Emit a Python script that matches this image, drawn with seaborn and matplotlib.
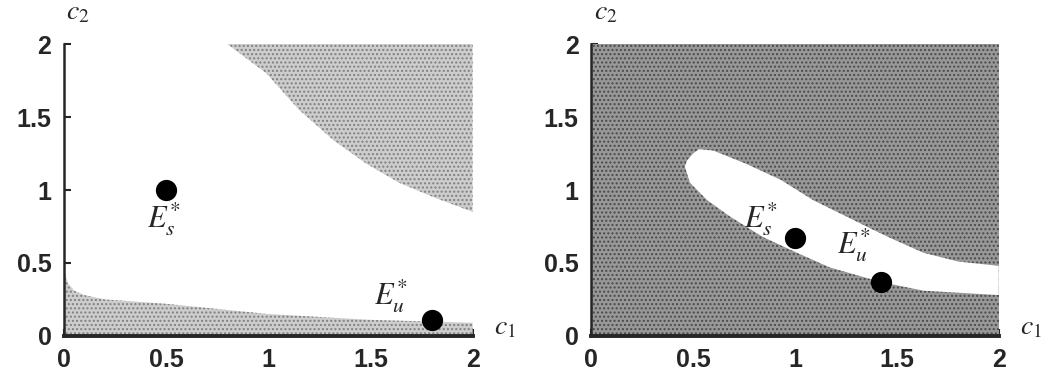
import matplotlib
matplotlib.use("Agg")
import matplotlib.pyplot as plt
import seaborn as sns

# --- datos ---
# panel izquierdo: region sombreada superior y franja inferior
izq_sup_x = [0.80, 0.99, 1.15, 1.32, 1.48, 1.64, 1.81, 2.0]
izq_sup_y = [2.0, 1.80, 1.55, 1.34, 1.18, 1.05, 0.95, 0.85]
izq_inf_x = [0.0, 0.02, 0.05, 0.1, 0.2, 0.5, 1.0, 1.5, 2.0]
izq_inf_y = [0.45, 0.36, 0.31, 0.28, 0.25, 0.22, 0.15, 0.11, 0.09]

# panel derecho: lengua blanca dentro de la region sombreada
der_arriba_x = [0.46, 0.47, 0.50, 0.53, 0.60, 0.76, 0.93, 1.09, 1.25, 1.38, 1.47, 1.63, 1.80, 2.0]
der_arriba_y = [1.16, 1.20, 1.25, 1.28, 1.27, 1.18, 1.07, 0.93, 0.82, 0.73, 0.67, 0.57, 0.51, 0.48]
der_abajo_x = [0.485, 0.57, 0.68, 0.84, 1.01, 1.17, 1.42, 1.63, 2.0]
der_abajo_y = [1.05, 0.93, 0.82, 0.68, 0.57, 0.47, 0.37, 0.31, 0.28]

# equilibrios
izq_puntos_x = [0.5, 1.8]
izq_puntos_y = [1.0, 0.11]
der_puntos_x = [1.0, 1.42]
der_puntos_y = [0.67, 0.37]
etiquetas = [r"$E_s^{*}$", r"$E_u^{*}$"]
izq_etq_x = [0.49, 1.60]
izq_etq_y = [0.80, 0.27]
der_etq_x = [0.83, 1.29]
der_etq_y = [0.80, 0.62]

ticks = [0, 0.5, 1, 1.5, 2]
tick_labels = ["0", "0.5", "1", "1.5", "2"]

sns.set_style("ticks")
plt.rcParams["font.family"] = ["Liberation Sans", "DejaVu Sans"]
plt.rcParams["mathtext.fontset"] = "stix"

fig = plt.figure(figsize=(10.48, 3.77), dpi=100)
ax1 = fig.add_axes([0.061, 0.109, 0.390, 0.774])
ax2 = fig.add_axes([0.564, 0.109, 0.389, 0.774])

gris_claro = "#cdcdcd"
gris_oscuro = "#989898"

# izquierda
ax1.fill_between(izq_sup_x, izq_sup_y, 2.0, facecolor=gris_claro,
                 edgecolor="#808080", hatch="....", linewidth=0)
ax1.fill_between(izq_inf_x, 0, izq_inf_y, facecolor=gris_claro,
                 edgecolor="#808080", hatch="....", linewidth=0)

# derecha
ax2.fill_between([0, 2], 0, 2, facecolor=gris_oscuro,
                 edgecolor="#4a4a4a", hatch="....", linewidth=0)
lengua_x = der_arriba_x + der_abajo_x[::-1]
lengua_y = der_arriba_y + der_abajo_y[::-1]
ax2.fill(lengua_x, lengua_y, color="white", linewidth=0, zorder=2)

for ax, px, py, ex, ey in [(ax1, izq_puntos_x, izq_puntos_y, izq_etq_x, izq_etq_y),
                           (ax2, der_puntos_x, der_puntos_y, der_etq_x, der_etq_y)]:
    sns.scatterplot(x=px, y=py, ax=ax, color="black", s=200, edgecolor="black",
                    zorder=5, clip_on=False)
    for t, x, y in zip(etiquetas, ex, ey):
        ax.text(x, y, t, fontsize=22, ha="center", va="center", zorder=6)

    ax.set_xlim(0, 2)
    ax.set_ylim(0, 2)
    ax.set_xticks(ticks)
    ax.set_xticklabels(tick_labels)
    ax.set_yticks(ticks)
    ax.set_yticklabels(tick_labels)
    ax.tick_params(direction="in", length=5, width=1.5, labelsize=18, pad=9)
    for lab in ax.get_xticklabels() + ax.get_yticklabels():
        lab.set_fontweight("bold")
    sns.despine(ax=ax)
    ax.spines["left"].set_linewidth(1.8)
    ax.spines["bottom"].set_linewidth(2.8)
    ax.text(0.07, 2.22, r"$c_2$", fontsize=20, ha="center", va="center", clip_on=False)
    ax.text(2.16, 0.06, r"$c_1$", fontsize=20, ha="center", va="center", clip_on=False)

fig.savefig("out.png", dpi=100)
